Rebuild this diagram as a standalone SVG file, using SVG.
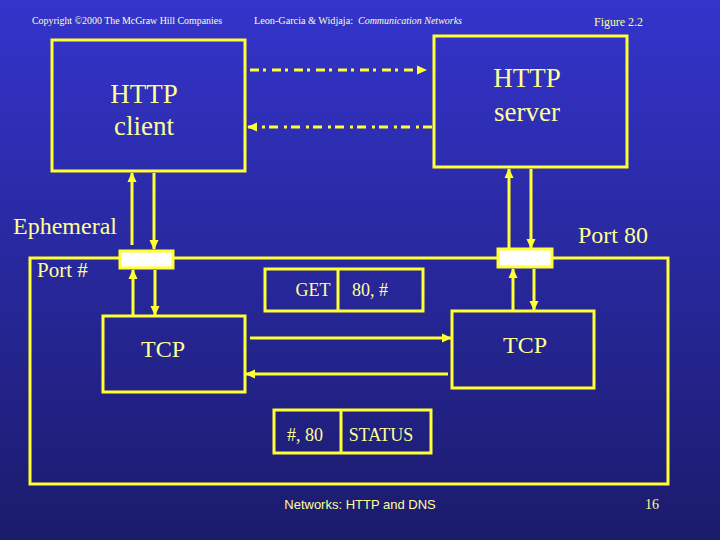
<svg xmlns="http://www.w3.org/2000/svg" width="720" height="540" viewBox="0 0 720 540">
<defs>
<linearGradient id="bg" x1="0" y1="0" x2="0" y2="1">
<stop offset="0" stop-color="#3434CC"/>
<stop offset="1" stop-color="#1B1B6C"/>
</linearGradient>
<marker id="ah" markerUnits="userSpaceOnUse" markerWidth="10" markerHeight="10" viewBox="0 0 10 10" refX="9" refY="5" orient="auto">
<path d="M0,0.5 L10,5 L0,9.5 Z" fill="#FFFF33"/>
</marker>
</defs>
<style>
.box{fill:none;stroke:#FFFF33;stroke-width:3}
.port{fill:#FFFFFF;stroke:#FFFF33;stroke-width:3}
.ln{fill:none;stroke:#FFFF33;stroke-width:3;marker-end:url(#ah)}
.dash{fill:none;stroke:#FFFF33;stroke-width:3;stroke-dasharray:9 4 3 6;marker-end:url(#ah)}
.t{font-family:"Liberation Serif","Times New Roman",serif;fill:#FFFF99}
.hd{font-family:"Liberation Serif","Times New Roman",serif;fill:#FFFFCC;font-size:10px}
</style>
<rect width="720" height="540" fill="url(#bg)"/>
<g id="header">
<text class="hd" x="32" y="24" textLength="190" lengthAdjust="spacingAndGlyphs">Copyright ©2000 The McGraw Hill Companies</text>
<text class="hd" x="254" y="24" textLength="99" lengthAdjust="spacingAndGlyphs">Leon-Garcia &amp; Widjaja:</text>
<text class="hd" x="358" y="24" font-style="italic" textLength="104" lengthAdjust="spacingAndGlyphs">Communication Networks</text>
<text class="t" x="594" y="26" font-size="13" fill="#FFFFCC" textLength="49" lengthAdjust="spacingAndGlyphs">Figure 2.2</text>
</g>
<g id="outer">
<rect class="box" x="30" y="258" width="638" height="226"/>
</g>
<g id="http-client">
<rect class="box" x="52" y="40" width="193" height="131"/>
<text class="t" x="144" y="103" font-size="27" text-anchor="middle">HTTP</text>
<text class="t" x="144" y="135" font-size="27" text-anchor="middle">client</text>
</g>
<g id="http-server">
<rect class="box" x="434" y="36" width="193" height="131"/>
<text class="t" x="527" y="87" font-size="27" text-anchor="middle">HTTP</text>
<text class="t" x="527" y="121" font-size="27" text-anchor="middle">server</text>
</g>
<g id="tcp-client">
<rect class="box" x="103" y="316" width="142" height="76"/>
<text class="t" x="163" y="357" font-size="24" text-anchor="middle">TCP</text>
</g>
<g id="tcp-server">
<rect class="box" x="452" y="311" width="142" height="77"/>
<text class="t" x="525" y="353" font-size="24" text-anchor="middle">TCP</text>
</g>
<g id="get-pdu">
<rect class="box" x="265" y="269" width="158" height="42"/>
<line x1="338" y1="269" x2="338" y2="311" stroke="#FFFF33" stroke-width="3"/>
<text class="t" x="313" y="296" font-size="18" text-anchor="middle">GET</text>
<text class="t" x="370" y="296" font-size="18" text-anchor="middle">80, #</text>
</g>
<g id="status-pdu">
<rect class="box" x="274" y="410" width="157" height="43"/>
<line x1="341" y1="410" x2="341" y2="453" stroke="#FFFF33" stroke-width="3"/>
<text class="t" x="305" y="441" font-size="18" text-anchor="middle">#, 80</text>
<text class="t" x="381" y="441" font-size="18" text-anchor="middle">STATUS</text>
</g>
<g id="client-port">
<rect class="port" x="120" y="251" width="53" height="17"/>
</g>
<g id="server-port">
<rect class="port" x="498" y="249" width="54" height="18"/>
</g>
<g id="labels">
<text class="t" x="13" y="234" font-size="24">Ephemeral</text>
<text class="t" x="37" y="277" font-size="21">Port #</text>
<text class="t" x="578" y="243" font-size="24">Port 80</text>
<text x="360" y="509" font-size="13" fill="#FFFF99" font-family="'Liberation Sans',Arial,sans-serif" text-anchor="middle">Networks: HTTP and DNS</text>
<text class="t" x="652" y="509" font-size="14" text-anchor="middle">16</text>
</g>
<g id="connectors">
<path class="dash" d="M250,70 H426"/>
<path class="dash" d="M432,127 H248"/>
<path class="ln" d="M132,245 V173"/>
<path class="ln" d="M154,173 V249"/>
<path class="ln" d="M133,316 V270"/>
<path class="ln" d="M155,270 V315"/>
<path class="ln" d="M509,249 V169"/>
<path class="ln" d="M531,169 V248"/>
<path class="ln" d="M513,311 V269"/>
<path class="ln" d="M534,269 V310"/>
<path class="ln" d="M250,338 H451"/>
<path class="ln" d="M448,374 H246"/>
</g>
</svg>
